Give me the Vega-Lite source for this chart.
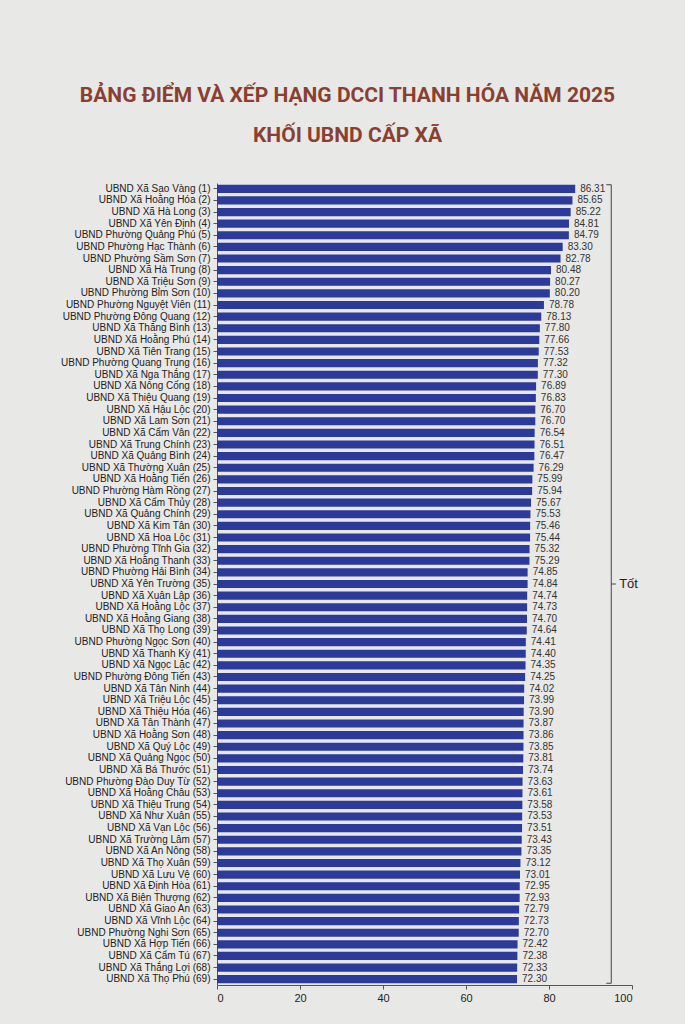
{
  "$schema": "https://vega.github.io/schema/vega-lite/v6.json",
  "autosize": {"type": "none"},
  "width": 415,
  "height": 802,
  "padding": {"left": 217, "top": 183, "right": 53, "bottom": 39},
  "background": "#e8e8e6",
  "title": {
    "text": ["BẢNG ĐIỂM VÀ XẾP HẠNG DCCI THANH HÓA NĂM 2025", "KHỐI UBND CẤP XÃ"],
    "font": "Roboto",
    "fontSize": 21,
    "fontWeight": "bold",
    "lineHeight": 40,
    "color": "#8a4030",
    "anchor": "middle",
    "frame": "group",
    "dx": -77,
    "offset": 37
  },
  "config": {
    "view": {"stroke": null},
    "font": "Liberation Sans"
  },
  "data": {
    "values": [
      {"name": "UBND Xã Sao Vàng (1)", "score": 86.31},
      {"name": "UBND Xã Hoằng Hóa (2)", "score": 85.65},
      {"name": "UBND Xã Hà Long (3)", "score": 85.22},
      {"name": "UBND Xã Yên Định (4)", "score": 84.81},
      {"name": "UBND Phường Quảng Phú (5)", "score": 84.79},
      {"name": "UBND Phường Hạc Thành (6)", "score": 83.30},
      {"name": "UBND Phường Sầm Sơn (7)", "score": 82.78},
      {"name": "UBND Xã Hà Trung (8)", "score": 80.48},
      {"name": "UBND Xã Triệu Sơn (9)", "score": 80.27},
      {"name": "UBND Phường Bỉm Sơn (10)", "score": 80.20},
      {"name": "UBND Phường Nguyệt Viên (11)", "score": 78.78},
      {"name": "UBND Phường Đông Quang (12)", "score": 78.13},
      {"name": "UBND Xã Thăng Bình (13)", "score": 77.80},
      {"name": "UBND Xã Hoằng Phú (14)", "score": 77.66},
      {"name": "UBND Xã Tiên Trang (15)", "score": 77.53},
      {"name": "UBND Phường Quang Trung (16)", "score": 77.32},
      {"name": "UBND Xã Nga Thắng (17)", "score": 77.30},
      {"name": "UBND Xã Nông Cống (18)", "score": 76.89},
      {"name": "UBND Xã Thiệu Quang (19)", "score": 76.83},
      {"name": "UBND Xã Hậu Lộc (20)", "score": 76.70},
      {"name": "UBND Xã Lam Sơn (21)", "score": 76.70},
      {"name": "UBND Xã Cẩm Vân (22)", "score": 76.54},
      {"name": "UBND Xã Trung Chính (23)", "score": 76.51},
      {"name": "UBND Xã Quảng Bình (24)", "score": 76.47},
      {"name": "UBND Xã Thường Xuân (25)", "score": 76.29},
      {"name": "UBND Xã Hoằng Tiến (26)", "score": 75.99},
      {"name": "UBND Phường Hàm Rồng (27)", "score": 75.94},
      {"name": "UBND Xã Cẩm Thủy (28)", "score": 75.67},
      {"name": "UBND Xã Quảng Chính (29)", "score": 75.53},
      {"name": "UBND Xã Kim Tân (30)", "score": 75.46},
      {"name": "UBND Xã Hoa Lộc (31)", "score": 75.44},
      {"name": "UBND Phường Tĩnh Gia (32)", "score": 75.32},
      {"name": "UBND Xã Hoằng Thanh (33)", "score": 75.29},
      {"name": "UBND Phường Hải Bình (34)", "score": 74.85},
      {"name": "UBND Xã Yên Trường (35)", "score": 74.84},
      {"name": "UBND Xã Xuân Lập (36)", "score": 74.74},
      {"name": "UBND Xã Hoằng Lộc (37)", "score": 74.73},
      {"name": "UBND Xã Hoằng Giang (38)", "score": 74.70},
      {"name": "UBND Xã Thọ Long (39)", "score": 74.64},
      {"name": "UBND Phường Ngọc Sơn (40)", "score": 74.41},
      {"name": "UBND Xã Thanh Kỳ (41)", "score": 74.40},
      {"name": "UBND Xã Ngọc Lặc (42)", "score": 74.35},
      {"name": "UBND Phường Đông Tiến (43)", "score": 74.25},
      {"name": "UBND Xã Tân Ninh (44)", "score": 74.02},
      {"name": "UBND Xã Triệu Lộc (45)", "score": 73.99},
      {"name": "UBND Xã Thiệu Hóa (46)", "score": 73.90},
      {"name": "UBND Xã Tân Thành (47)", "score": 73.87},
      {"name": "UBND Xã Hoằng Sơn (48)", "score": 73.86},
      {"name": "UBND Xã Quý Lộc (49)", "score": 73.85},
      {"name": "UBND Xã Quảng Ngọc (50)", "score": 73.81},
      {"name": "UBND Xã Bá Thước (51)", "score": 73.74},
      {"name": "UBND Phường Đào Duy Từ (52)", "score": 73.63},
      {"name": "UBND Xã Hoằng Châu (53)", "score": 73.61},
      {"name": "UBND Xã Thiệu Trung (54)", "score": 73.58},
      {"name": "UBND Xã Như Xuân (55)", "score": 73.53},
      {"name": "UBND Xã Vạn Lộc (56)", "score": 73.51},
      {"name": "UBND Xã Trường Lâm (57)", "score": 73.43},
      {"name": "UBND Xã An Nông (58)", "score": 73.35},
      {"name": "UBND Xã Thọ Xuân (59)", "score": 73.12},
      {"name": "UBND Xã Lưu Vệ (60)", "score": 73.01},
      {"name": "UBND Xã Định Hòa (61)", "score": 72.95},
      {"name": "UBND Xã Biện Thượng (62)", "score": 72.93},
      {"name": "UBND Xã Giao An (63)", "score": 72.79},
      {"name": "UBND Xã Vĩnh Lộc (64)", "score": 72.73},
      {"name": "UBND Phường Nghi Sơn (65)", "score": 72.70},
      {"name": "UBND Xã Hợp Tiến (66)", "score": 72.42},
      {"name": "UBND Xã Cẩm Tú (67)", "score": 72.38},
      {"name": "UBND Xã Thắng Lợi (68)", "score": 72.33},
      {"name": "UBND Xã Thọ Phú (69)", "score": 72.30}
    ]
  },
  "encoding": {
    "y": {
      "field": "name", "type": "nominal",
      "scale": {
        "paddingInner": 0.3, "paddingOuter": 0.15,
        "domain": [
          "UBND Xã Sao Vàng (1)", "UBND Xã Hoằng Hóa (2)", "UBND Xã Hà Long (3)", "UBND Xã Yên Định (4)",
          "UBND Phường Quảng Phú (5)", "UBND Phường Hạc Thành (6)", "UBND Phường Sầm Sơn (7)", "UBND Xã Hà Trung (8)",
          "UBND Xã Triệu Sơn (9)", "UBND Phường Bỉm Sơn (10)", "UBND Phường Nguyệt Viên (11)", "UBND Phường Đông Quang (12)",
          "UBND Xã Thăng Bình (13)", "UBND Xã Hoằng Phú (14)", "UBND Xã Tiên Trang (15)", "UBND Phường Quang Trung (16)",
          "UBND Xã Nga Thắng (17)", "UBND Xã Nông Cống (18)", "UBND Xã Thiệu Quang (19)", "UBND Xã Hậu Lộc (20)",
          "UBND Xã Lam Sơn (21)", "UBND Xã Cẩm Vân (22)", "UBND Xã Trung Chính (23)", "UBND Xã Quảng Bình (24)",
          "UBND Xã Thường Xuân (25)", "UBND Xã Hoằng Tiến (26)", "UBND Phường Hàm Rồng (27)", "UBND Xã Cẩm Thủy (28)",
          "UBND Xã Quảng Chính (29)", "UBND Xã Kim Tân (30)", "UBND Xã Hoa Lộc (31)", "UBND Phường Tĩnh Gia (32)",
          "UBND Xã Hoằng Thanh (33)", "UBND Phường Hải Bình (34)", "UBND Xã Yên Trường (35)", "UBND Xã Xuân Lập (36)",
          "UBND Xã Hoằng Lộc (37)", "UBND Xã Hoằng Giang (38)", "UBND Xã Thọ Long (39)", "UBND Phường Ngọc Sơn (40)",
          "UBND Xã Thanh Kỳ (41)", "UBND Xã Ngọc Lặc (42)", "UBND Phường Đông Tiến (43)", "UBND Xã Tân Ninh (44)",
          "UBND Xã Triệu Lộc (45)", "UBND Xã Thiệu Hóa (46)", "UBND Xã Tân Thành (47)", "UBND Xã Hoằng Sơn (48)",
          "UBND Xã Quý Lộc (49)", "UBND Xã Quảng Ngọc (50)", "UBND Xã Bá Thước (51)", "UBND Phường Đào Duy Từ (52)",
          "UBND Xã Hoằng Châu (53)", "UBND Xã Thiệu Trung (54)", "UBND Xã Như Xuân (55)", "UBND Xã Vạn Lộc (56)",
          "UBND Xã Trường Lâm (57)", "UBND Xã An Nông (58)", "UBND Xã Thọ Xuân (59)", "UBND Xã Lưu Vệ (60)",
          "UBND Xã Định Hòa (61)", "UBND Xã Biện Thượng (62)", "UBND Xã Giao An (63)", "UBND Xã Vĩnh Lộc (64)",
          "UBND Phường Nghi Sơn (65)", "UBND Xã Hợp Tiến (66)", "UBND Xã Cẩm Tú (67)", "UBND Xã Thắng Lợi (68)",
          "UBND Xã Thọ Phú (69)"
        ]
      },
      "axis": {
        "title": null, "labelFontSize": 10, "labelColor": "#222",
        "domainColor": "#555", "tickColor": "#555", "tickSize": 4,
        "labelPadding": 3, "labelLimit": 250
      }
    }
  },
  "layer": [
    {
      "mark": {"type": "bar", "color": "#2b3a9b"},
      "encoding": {
        "x": {
          "field": "score", "type": "quantitative",
          "scale": {"domain": [0, 100]},
          "axis": {
            "title": null, "values": [0, 20, 40, 60, 80, 100], "grid": false,
            "labelFontSize": 11, "labelColor": "#222", "domainColor": "#555",
            "tickColor": "#555", "tickSize": 4, "labelPadding": 3
          }
        }
      }
    },
    {
      "mark": {"type": "text", "align": "left", "dx": 5, "fontSize": 10, "color": "#333"},
      "encoding": {
        "x": {"field": "score", "type": "quantitative"},
        "text": {"field": "score", "type": "quantitative", "format": ".2f"}
      }
    },
    {
      "data": {"values": [{"group": "Tốt", "first": "UBND Xã Sao Vàng (1)", "last": "UBND Xã Thọ Phú (69)", "mid": "UBND Xã Yên Trường (35)"}]},
      "layer": [
        {
          "mark": {"type": "rule", "color": "#444", "strokeWidth": 1},
          "encoding": {
            "x": {"datum": 95},
            "y": {"field": "first", "type": "nominal", "bandPosition": 0},
            "y2": {"field": "last", "bandPosition": 1}
          }
        },
        {
          "mark": {"type": "rule", "color": "#444", "strokeWidth": 1},
          "encoding": {
            "x": {"datum": 93.8},
            "x2": {"datum": 95},
            "y": {"field": "first", "type": "nominal", "bandPosition": 0}
          }
        },
        {
          "mark": {"type": "rule", "color": "#444", "strokeWidth": 1},
          "encoding": {
            "x": {"datum": 93.8},
            "x2": {"datum": 95},
            "y": {"field": "last", "type": "nominal", "bandPosition": 1}
          }
        },
        {
          "mark": {"type": "rule", "color": "#444", "strokeWidth": 1},
          "encoding": {
            "x": {"datum": 95},
            "x2": {"datum": 96.1},
            "y": {"field": "mid", "type": "nominal"}
          }
        },
        {
          "mark": {"type": "text", "align": "left", "fontSize": 13, "color": "#222"},
          "encoding": {
            "x": {"datum": 96.9},
            "y": {"field": "mid", "type": "nominal"},
            "text": {"field": "group"}
          }
        }
      ]
    }
  ]
}
